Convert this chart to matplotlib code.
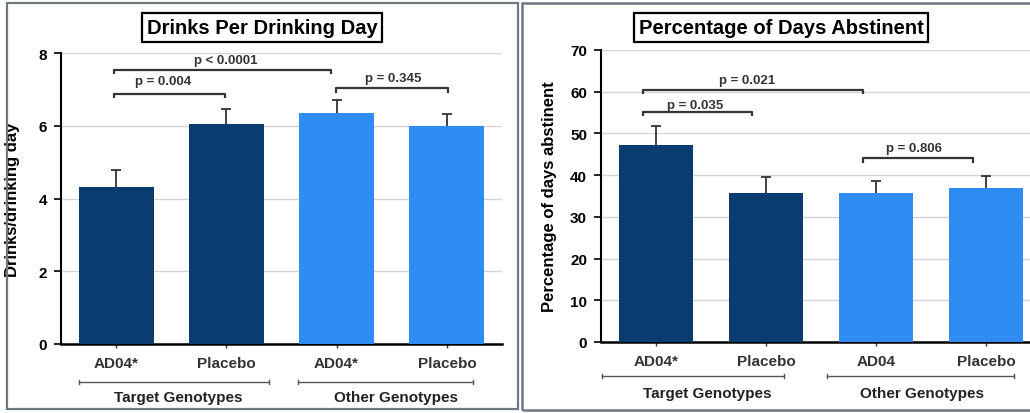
import numpy as np
import matplotlib.pyplot as plt
from matplotlib.patches import Rectangle
import matplotlib.transforms as mtransforms

plt.rcParams['font.family'] = ['Liberation Sans', 'DejaVu Sans']
plt.rcParams['font.weight'] = 'bold'

# drinks per drinking day
ddd_labels = ['AD04*', 'Placebo', 'AD04*', 'Placebo']
ddd_means = [4.32, 6.04, 6.36, 5.98]
ddd_sem = [0.47, 0.41, 0.36, 0.33]
ddd_pvals = ['p = 0.004', 'p < 0.0001', 'p = 0.345']

# percentage of days abstinent
pda_labels = ['AD04*', 'Placebo', 'AD04', 'Placebo']
pda_means = [47.3, 35.7, 35.7, 36.8]
pda_sem = [4.5, 3.8, 3.0, 3.1]
pda_pvals = ['p = 0.035', 'p = 0.021', 'p = 0.806']

groups = ['Target Genotypes', 'Other Genotypes']
colors = ['#0b3c70', '#0b3c70', '#2f8cf2', '#2f8cf2']
ink = '#333333'

fig = plt.figure(figsize=(10.30, 4.14), dpi=100)

# panel frames
fig.patches.append(Rectangle((7 / 1030, 4 / 414), 511 / 1030, 406 / 414,
                             transform=fig.transFigure, fill=False,
                             edgecolor='#6e7880', linewidth=1.6))
fig.patches.append(Rectangle((522 / 1030, 3 / 414), 520 / 1030, 407 / 414,
                             transform=fig.transFigure, fill=False,
                             edgecolor='#6e7880', linewidth=1.8, clip_on=False))


def bracket(ax, x0, x1, y, hook, text, tx, ty):
    ax.plot([x0, x0, x1, x1], [y - hook, y, y, y - hook], color=ink,
            lw=1.6, solid_capstyle='butt', zorder=4)
    ax.text(tx, ty, text, ha='center', va='center', fontsize=9.5,
            fontweight='bold', color=ink)


def draw_panel(ax, labels, means, sem, ymax, ystep, ylabel,
               group_spans, group_x, line_y, text_y):
    x = np.arange(len(means))
    ax.bar(x, means, width=0.68, color=colors, zorder=3)
    eb = ax.errorbar(x, means, yerr=[np.zeros(len(sem)), sem], fmt='none',
                     ecolor=ink, elinewidth=1.3, capsize=3.6, capthick=1.3,
                     zorder=2)
    # upper whisker only
    eb[1][0].set_visible(False)
    ax.set_xlim(-0.5, 3.5)
    ax.set_ylim(0, ymax)
    ax.set_yticks(np.arange(0, ymax + 0.01, ystep))
    ax.yaxis.grid(True, color='#d4d4d4', lw=1)
    ax.set_axisbelow(True)
    ax.set_xticks(x)
    ax.set_xticklabels(labels, fontsize=11, fontweight='bold')
    ax.tick_params(axis='x', length=3, width=1, pad=6, colors=ink)
    ax.tick_params(axis='y', length=5, width=1.2, labelsize=11, pad=5)
    for t in ax.get_yticklabels():
        t.set_fontweight('bold')
    ax.spines[['top', 'right']].set_visible(False)
    ax.spines['left'].set_linewidth(1.5)
    ax.spines['bottom'].set_linewidth(1.8)
    ax.set_ylabel(ylabel, fontsize=12, fontweight='bold')

    trans = mtransforms.blended_transform_factory(ax.transData, ax.transAxes)
    for (a, b), gx, name in zip(group_spans, group_x, groups):
        ax.plot([a, b], [line_y, line_y], color='#555555', lw=1,
                transform=trans, clip_on=False)
        for e in (a, b):
            ax.plot([e, e], [line_y - 0.008, line_y + 0.008], color='#555555',
                    lw=1, transform=trans, clip_on=False)
        ax.text(gx, text_y, name, transform=trans, ha='center', va='center',
                fontsize=11, fontweight='bold', color='#222222')


ax1 = fig.add_axes([61 / 1030, 69 / 414, 441 / 1030, 291 / 414])
draw_panel(ax1, ddd_labels, ddd_means, ddd_sem, 8, 2, 'Drinks/drinking day',
           [(-0.34, 1.39), (1.65, 3.24)], [0.56, 2.54], -0.131, -0.182)
bracket(ax1, -0.015, 0.985, 6.87, 0.12, ddd_pvals[0], 0.43, 7.22)
bracket(ax1, -0.015, 1.945, 7.53, 0.12, ddd_pvals[1], 0.99, 7.8)
bracket(ax1, 1.997, 3.006, 7.03, 0.12, ddd_pvals[2], 2.51, 7.32)
ax1.yaxis.set_label_coords(-0.093, 0.5)

ax2 = fig.add_axes([601 / 1030, 71 / 414, 440 / 1030, 292 / 414])
draw_panel(ax2, pda_labels, pda_means, pda_sem, 70, 10,
           'Percentage of days abstinent',
           [(-0.49, 1.16), (1.55, 3.25)], [0.47, 2.42], -0.116, -0.175)
bracket(ax2, -0.118, 0.873, 55.1, 1.0, pda_pvals[0], 0.355, 56.9)
bracket(ax2, -0.118, 1.88, 60.5, 1.0, pda_pvals[1], 0.83, 62.9)
bracket(ax2, 1.88, 2.88, 44.0, 1.0, pda_pvals[2], 2.35, 46.6)
ax2.yaxis.set_label_coords(-0.101, 0.5)

box = dict(boxstyle='square,pad=0.25', facecolor='white', edgecolor='black',
           linewidth=1.6)
fig.text(262 / 1030, 1 - 28.5 / 414, 'Drinks Per Drinking Day', ha='center',
         va='center', fontsize=14.5, fontweight='bold', bbox=box)
fig.text(781 / 1030, 1 - 28.5 / 414, 'Percentage of Days Abstinent',
         ha='center', va='center', fontsize=14.5, fontweight='bold', bbox=box)

fig.savefig('out.png', dpi=100)
